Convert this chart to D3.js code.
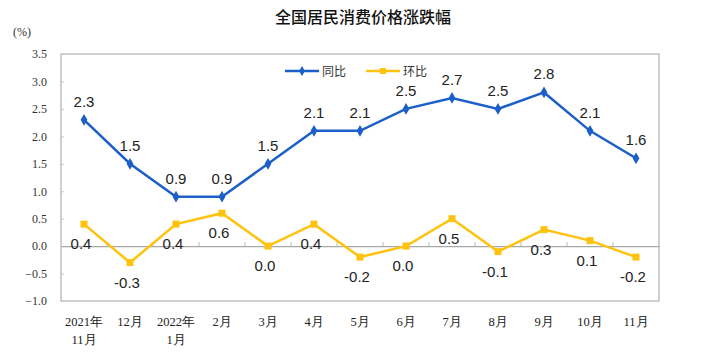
<!DOCTYPE html>
<html><head><meta charset="utf-8">
<script src="https://cdn.jsdelivr.net/npm/d3@7"></script>
<style>body{margin:0;background:#fff}</style>
</head><body>
<svg id="c" width="726" height="356"></svg>
<script>
const categories = [["2021年","11月"],["12月"],["2022年","1月"],["2月"],["3月"],["4月"],["5月"],["6月"],["7月"],["8月"],["9月"],["10月"],["11月"]];
const yoy = [2.3,1.5,0.9,0.9,1.5,2.1,2.1,2.5,2.7,2.5,2.8,2.1,1.6];
const mom = [0.4,-0.3,0.4,0.6,0.0,0.4,-0.2,0.0,0.5,-0.1,0.3,0.1,-0.2];
const yTicks = [-1.0,-0.5,0.0,0.5,1.0,1.5,2.0,2.5,3.0,3.5];
const seriesNames = ["同比","环比"];
const title = "全国居民消费价格涨跌幅";

const svg = d3.select("#c");
const L = 61, R = 659, T = 54, B = 301;
const x = d3.scaleBand().domain(d3.range(categories.length)).range([L, R]);
const y = d3.scaleLinear().domain([-1, 3.5]).range([B, T]);
const cx = i => x(i) + x.bandwidth()/2;
const blue = "#1c5fc8", yellow = "#ffc20e";
const serif = "'Liberation Serif','Times New Roman',serif";
const sans = "'Liberation Sans',Arial,'Noto Sans CJK SC',sans-serif";

svg.append("text").attr("x", 363).attr("y", 23).attr("text-anchor","middle")
  .attr("font-family","'Noto Sans CJK SC',sans-serif").attr("font-size",16).attr("font-weight",500)
  .attr("fill","#111").text(title);
svg.append("text").attr("x", 13).attr("y", 36).attr("font-family", serif).attr("font-size",12).attr("fill","#333").text("(%)");

// frame
svg.append("rect").attr("x",L).attr("y",T).attr("width",R-L).attr("height",B-T)
  .attr("fill","none").attr("stroke","#b0b0b0").attr("stroke-width",1.2);

// y axis
const ya = svg.append("g").attr("transform",`translate(${L},0)`)
  .call(d3.axisLeft(y).tickValues(yTicks).tickFormat(d3.format(".1f")).tickSizeInner(-3).tickSizeOuter(0).tickPadding(14));
ya.select(".domain").remove();
ya.selectAll("line").attr("stroke","#c8c8c8");
ya.selectAll("text").attr("font-family",serif).attr("font-size",12).attr("fill","#333");

// zero line with ticks up
const xa = svg.append("g").attr("transform",`translate(0,${y(0)})`)
  .call(d3.axisBottom(x).tickSize(0).tickFormat(""));
xa.select(".domain").attr("stroke","#a8a8a8").attr("stroke-width",1.2);
svg.append("g").selectAll("line").data(d3.range(1,categories.length)).join("line")
  .attr("x1",i=>x(i)).attr("x2",i=>x(i)).attr("y1",y(0)).attr("y2",y(0)-4)
  .attr("stroke","#b8b8b8");

// x labels
const xl = svg.append("g");
categories.forEach((c,i)=>{
  const t = xl.append("text").attr("x",cx(i)).attr("y",326).attr("text-anchor","middle")
    .attr("font-family",serif).attr("font-size",12.5).attr("fill","#222");
  c.forEach((s,k)=>t.append("tspan").attr("x",cx(i)).attr("dy",k?18:0).text(s));
});

const line = d3.line().x((d,i)=>cx(i)).y(d=>y(d));
svg.append("path").datum(yoy).attr("d",line).attr("fill","none").attr("stroke",blue).attr("stroke-width",2.5);
svg.append("path").datum(mom).attr("d",line).attr("fill","none").attr("stroke",yellow).attr("stroke-width",2.5);

svg.append("g").selectAll("path").data(yoy).join("path")
  .attr("d",d3.symbol(d3.symbolDiamond,40)).attr("transform",(d,i)=>`translate(${cx(i)},${y(d)})`).attr("fill",blue);
svg.append("g").selectAll("rect").data(mom).join("rect")
  .attr("x",(d,i)=>cx(i)-3.5).attr("y",d=>y(d)-3.5).attr("width",7).attr("height",7).attr("fill",yellow);

svg.append("g").selectAll("text").data(yoy).join("text")
  .attr("x",(d,i)=>cx(i)).attr("y",d=>y(d)-13).attr("text-anchor","middle")
  .attr("font-family",sans).attr("font-size",15).attr("fill","#222").text(d=>d.toFixed(1));
svg.append("g").selectAll("text").data(mom).join("text")
  .attr("x",(d,i)=>cx(i)-3).attr("y",d=>y(d)+25).attr("text-anchor","middle")
  .attr("font-family",sans).attr("font-size",15).attr("fill","#222").text(d=>d.toFixed(1));

// legend
const lg = svg.append("g");
[[blue,285,"d"],[yellow,366,"s"]].forEach(([col,lx,m],k)=>{
  lg.append("line").attr("x1",lx).attr("x2",lx+34).attr("y1",71).attr("y2",71).attr("stroke",col).attr("stroke-width",2.5);
  if(m==="d") lg.append("path").attr("d",d3.symbol(d3.symbolDiamond,30)).attr("transform",`translate(${lx+17},71)`).attr("fill",col);
  else lg.append("rect").attr("x",lx+14).attr("y",68).attr("width",6).attr("height",6).attr("fill",col);
  lg.append("text").attr("x",lx+37).attr("y",75.5).attr("font-family","'Noto Sans CJK SC',sans-serif")
    .attr("font-size",12).attr("fill","#333").text(seriesNames[k]);
});
</script>
</body></html>
